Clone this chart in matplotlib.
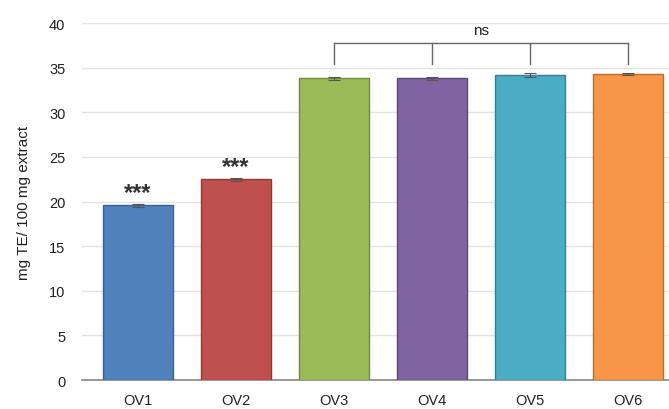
import numpy as np
import matplotlib
matplotlib.use("Agg")
import matplotlib.pyplot as plt

# --- Data ---
samples = ["OV1", "OV2", "OV3", "OV4", "OV5", "OV6"]
means = [19.6, 22.5, 33.8, 33.8, 34.2, 34.3]
errors = [0.15, 0.2, 0.15, 0.12, 0.2, 0.1]
bar_colors = ["#4F81BD", "#C0504D", "#9BBB59", "#8064A2", "#4BACC6", "#F79646"]
edge_colors = ["#3A6190", "#8E3A38", "#6F8A3C", "#5C4877", "#357F93", "#B86E2F"]
star_labels = ["***", "***", "", "", "", ""]

plt.rcParams['font.family'] = ['Liberation Sans', 'DejaVu Sans']

fig = plt.figure(figsize=(6.69, 4.10), dpi=100)
ax = fig.add_axes([0.1226, 0.0707, 0.8774, 0.8703])

x = np.arange(len(samples))
ax.bar(x, means, width=0.71, color=bar_colors, edgecolor=edge_colors,
       linewidth=1.0, zorder=3)
ax.errorbar(x, means, yerr=errors, fmt='none', ecolor='#555555',
            elinewidth=0.8, capsize=4, capthick=0.8, zorder=4)

# significance stars above the first two bars
for xi, m, s in zip(x, means, star_labels):
    if s:
        ax.text(xi, m + 0.7, s, ha='center', va='baseline', fontsize=17,
                fontweight='bold', color='#333333')

# "ns" bracket across OV3..OV6
grp = x[2:]
top = 37.8
ax.plot([grp[0], grp[-1]], [top, top], color='#666666', lw=1.0, zorder=5)
for xi in grp:
    ax.plot([xi, xi], [top, 35.4], color='#666666', lw=1.0, zorder=5)
ax.text((grp[0] + grp[-1]) / 2, top + 0.6, "ns", ha='center', va='bottom',
        fontsize=11, color='#222222')

ax.set_xlim(-0.57, 5.42)
ax.set_ylim(0, 40)
ax.set_yticks(np.arange(0, 41, 5))
ax.set_xticks(x)
ax.set_xticklabels(samples)
ax.tick_params(axis='both', length=0, labelsize=10.5, colors='#222222')
ax.tick_params(axis='x', pad=9)
ax.tick_params(axis='y', pad=12)
ax.yaxis.grid(True, color='#E3E3E3', lw=1.0, zorder=0)
ax.set_axisbelow(True)

for side in ['top', 'right', 'left']:
    ax.spines[side].set_visible(False)
ax.spines['bottom'].set_color('#888888')
ax.spines['bottom'].set_linewidth(1.2)

ax.set_ylabel("mg TE/ 100 mg extract", fontsize=11, color='#222222',
              labelpad=13)

fig.savefig("out.png", dpi=100)
